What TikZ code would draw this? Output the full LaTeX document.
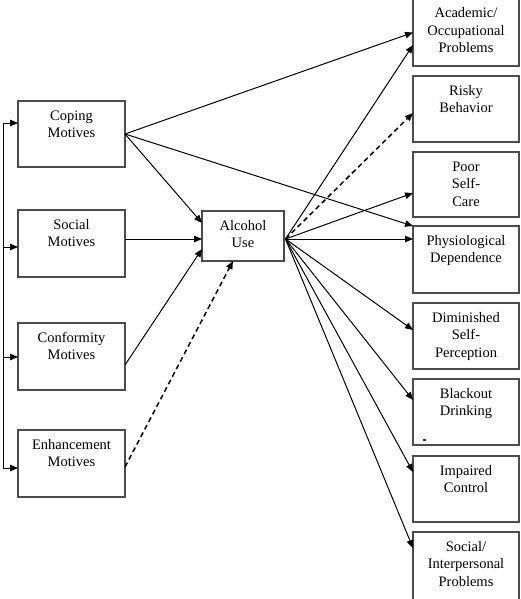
\documentclass[tikz,border=0pt]{standalone}
\usepackage{fontspec}
\setmainfont{Liberation Serif}
\usetikzlibrary{arrows.meta}
\newcommand\bxt[3]{\parbox[c][#2pt][t]{#1pt}{\centering\rule{0pt}{19pt}#3}}
\begin{document}
\begin{tikzpicture}[x=1pt,y=-1pt,
  box/.style={draw=black!70,line width=1.1pt,inner sep=0pt,outer sep=0pt,anchor=north west,
    font=\fontsize{14.5}{17.5}\selectfont},
  arr/.style={line width=1pt,-{Triangle[length=8pt,width=6.5pt]}},
  darr/.style={line width=1.5pt,dash pattern=on 5pt off 3.5pt,-{Triangle[length=8pt,width=6.5pt]}},
  plain/.style={line width=1pt}]
\useasboundingbox (0,0) rectangle (521,599);
% left boxes
\node[box] (coping) at (18,101) {\bxt{107}{66}{Coping\\Motives}};
\node[box] (social) at (18,210) {\bxt{107}{67}{Social\\Motives}};
\node[box] (conf) at (18,323) {\bxt{107}{67}{Conformity\\Motives}};
\node[box] (enh) at (18,430) {\bxt{107}{67}{Enhancement\\Motives}};
% center
\node[box] (alc) at (202,211) {\bxt{82}{50}{Alcohol\\Use}};
% right boxes
\node[box] (acad) at (413,-1) {\bxt{106}{67}{Academic/\\Occupational\\Problems}};
\node[box] (risky) at (413,76) {\bxt{106}{66}{Risky\\Behavior}};
\node[box] (poor) at (413,152) {\bxt{106}{65}{Poor\\Self-\\Care}};
\node[box] (phys) at (413,226) {\bxt{106}{67}{Physiological\\Dependence}};
\node[box] (dim) at (413,303) {\bxt{106}{66}{Diminished\\Self-\\Perception}};
\node[box] (black) at (413,379) {\bxt{106}{66}{Blackout\\Drinking}};
\node[box] (imp) at (413,456) {\bxt{106}{66}{Impaired\\Control}};
\node[box] (soc) at (413,532) {\bxt{106}{68}{Social/\\Interpersonal\\Problems}};
\node[fill=black!80,inner sep=0pt,minimum width=3pt,minimum height=1.3pt] (mark) at (424,440) {};
% bracket
\coordinate (b1) at (3,123);
\coordinate (b2) at (3,247);
\coordinate (b3) at (3,357);
\coordinate (b4) at (3,468);
\draw[plain] (b1) -- (b4);
\draw[arr] (b1) -- (coping.west |- b1);
\draw[arr] (b2) -- (social.west |- b2);
\draw[arr] (b3) -- (conf.west |- b3);
\draw[arr] (b4) -- (enh.west |- b4);
% into alcohol
\draw[arr] (coping.east) -- ([yshift=13pt]alc.west);
\draw[arr] ([yshift=4.5pt]social.east) -- ([yshift=-3pt]alc.west);
\draw[arr] ([yshift=-8.5pt]conf.east) -- ([yshift=-13pt]alc.west);
\draw[darr] ([yshift=-3.5pt]enh.east) -- ([xshift=-10pt]alc.south);
% coping direct
\draw[arr] (coping.east) -- (acad.west);
\draw[arr] (coping.east) -- (phys.north west);
% out of alcohol
\coordinate (ao) at ([xshift=1.5pt,yshift=-3pt]alc.east);
\draw[arr] (ao) -- ([yshift=-12.5pt]acad.west);
\draw[darr] (ao) -- ([yshift=-4pt]risky.west);
\draw[arr] (ao) -- ([yshift=-8.5pt]poor.west);
\draw[arr] (ao) -- ([yshift=20.5pt]phys.west);
\draw[arr] (ao) -- ([yshift=6pt]dim.west);
\draw[arr] (ao) -- ([yshift=12pt]black.west);
\draw[arr] (ao) -- ([yshift=17pt]imp.west);
\draw[arr] (ao) -- ([yshift=18pt]soc.west);
\end{tikzpicture}
\end{document}
